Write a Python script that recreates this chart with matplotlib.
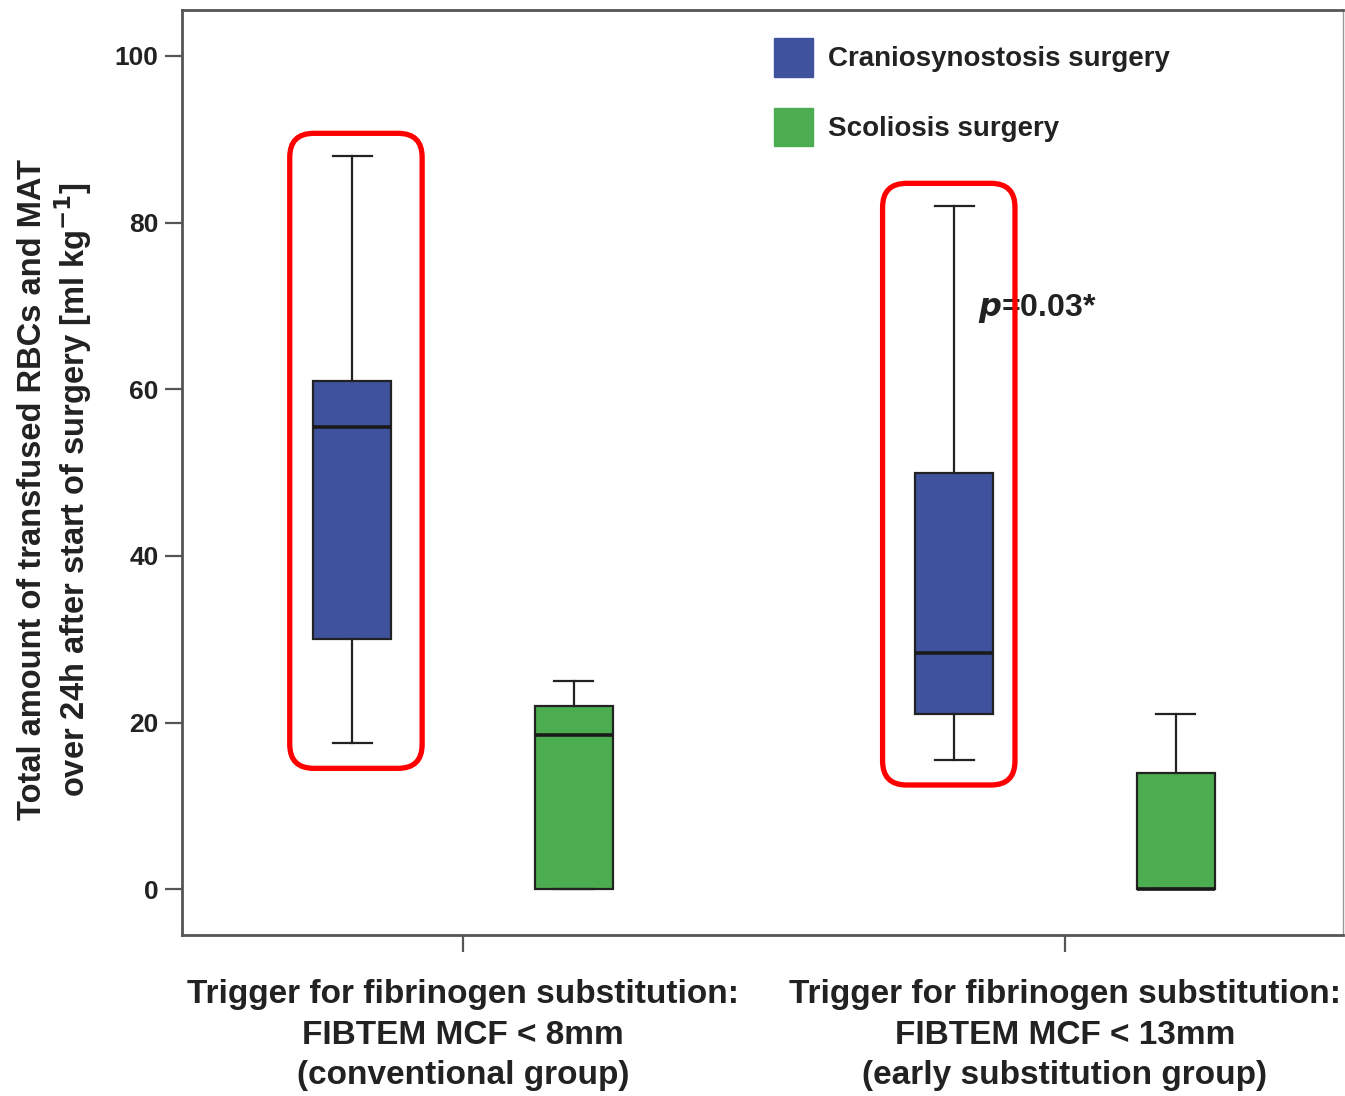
import matplotlib
matplotlib.use("Agg")
import matplotlib.pyplot as plt
from matplotlib.patches import FancyBboxPatch, Patch

plt.rcParams['font.family'] = ['Liberation Sans', 'DejaVu Sans']
plt.rcParams['font.weight'] = 'bold'

# datos (ml/kg)
grupos = ["Trigger for fibrinogen substitution:\nFIBTEM MCF < 8mm\n(conventional group)",
          "Trigger for fibrinogen substitution:\nFIBTEM MCF < 13mm\n(early substitution group)"]
cranio_min = [17.5, 15.5]
cranio_q1 = [30.0, 21.0]
cranio_med = [55.5, 28.3]
cranio_q3 = [61.0, 50.0]
cranio_max = [88.0, 82.0]

escol_min = [0.0, 0.0]
escol_q1 = [0.0, 0.0]
escol_med = [18.5, 0.0]
escol_q3 = [22.0, 14.0]
escol_max = [25.0, 21.0]

colorAzul = "#3f529d"
colorVerde = "#4cad50"

fig = plt.figure(figsize=(13.45, 10.96), dpi=100)
ax = fig.add_axes([182/1345, 1-935/1096, (1343-182)/1345, (935-10)/1096])

def armarStats(mn, q1, med, q3, mx):
    return [dict(whislo=mn[i], q1=q1[i], med=med[i], q3=q3[i], whishi=mx[i], fliers=[])
            for i in range(len(mn))]

desplaz = 0.184
ancho = 0.13
posCranio = [i - desplaz for i in range(len(grupos))]
posEscol = [i + desplaz for i in range(len(grupos))]

for stats, pos, col in [(armarStats(cranio_min, cranio_q1, cranio_med, cranio_q3, cranio_max), posCranio, colorAzul),
                        (armarStats(escol_min, escol_q1, escol_med, escol_q3, escol_max), posEscol, colorVerde)]:
    ax.bxp(stats, positions=pos, widths=ancho, capwidths=ancho*0.5, patch_artist=True,
           showfliers=False, manage_ticks=False,
           boxprops=dict(facecolor=col, edgecolor="#222222", linewidth=1.6),
           medianprops=dict(color="#1a1a1a", linewidth=2.6),
           whiskerprops=dict(color="#222222", linewidth=1.6),
           capprops=dict(color="#222222", linewidth=1.6))

ax.set_xlim(-0.467, 1.462)
ax.set_ylim(-5.5, 105.5)

# rectangulos rojos alrededor de las cajas azules
figW, figH = fig.get_size_inches() * fig.dpi
bb = ax.get_position()
pxX = bb.width * figW / (1.462 + 0.467)
pxY = bb.height * figH / (105.5 + 5.5)
aspecto = pxX / pxY
radio = 24 / pxX
corrimiento = [0.006, -0.009]
for i in range(len(grupos)):
    x0 = posCranio[i] + corrimiento[i] - 0.11
    y0 = cranio_min[i] - 3
    rect = FancyBboxPatch((x0, y0), 0.22, cranio_max[i] - cranio_min[i] + 5.7,
                          boxstyle="round,pad=0,rounding_size=%f" % radio,
                          mutation_aspect=aspecto, fill=False, edgecolor="#ff0000",
                          linewidth=3.8, zorder=5, clip_on=False)
    ax.add_patch(rect)

ax.text(0.855, 69.7, r"$\bfit{p}$=0.03*", fontsize=23, fontweight='bold', color="#222222",
        va='center', ha='left')

ax.set_yticks([0, 20, 40, 60, 80, 100])
ax.set_xticks(range(len(grupos)))
ax.set_xticklabels(grupos, fontsize=24, fontweight='bold', color="#222222", linespacing=1.38)
ax.tick_params(axis='y', labelsize=19, length=12, width=1.6, color="#555555", labelcolor="#222222", pad=5)
ax.tick_params(axis='x', length=12, width=1.6, color="#555555", pad=20)

ax.set_ylabel("Total amount of transfused RBCs and MAT\nover 24h after start of surgery [ml kg$^{\\mathbf{-1}}$]",
              fontsize=23.5, fontweight='bold', color="#222222", linespacing=1.12)
ax.yaxis.set_label_coords(-0.076, 0.482)

for lado in ['left', 'bottom', 'top']:
    ax.spines[lado].set_color("#555555")
    ax.spines[lado].set_linewidth(2)
ax.spines['right'].set_color("#999999")
ax.spines['right'].set_linewidth(1)

manijas = [Patch(facecolor=colorAzul, edgecolor=colorAzul, label="Craniosynostosis surgery"),
           Patch(facecolor=colorVerde, edgecolor=colorVerde, label="Scoliosis surgery")]
ax.legend(handles=manijas, loc='upper left', bbox_to_anchor=(0.4885, 0.9965), frameon=False,
          prop=dict(size=20, weight='bold'), handlelength=1.4, handleheight=1.75,
          labelspacing=1.13, handletextpad=0.55, labelcolor="#222222")

fig.savefig("out.png", dpi=100)
